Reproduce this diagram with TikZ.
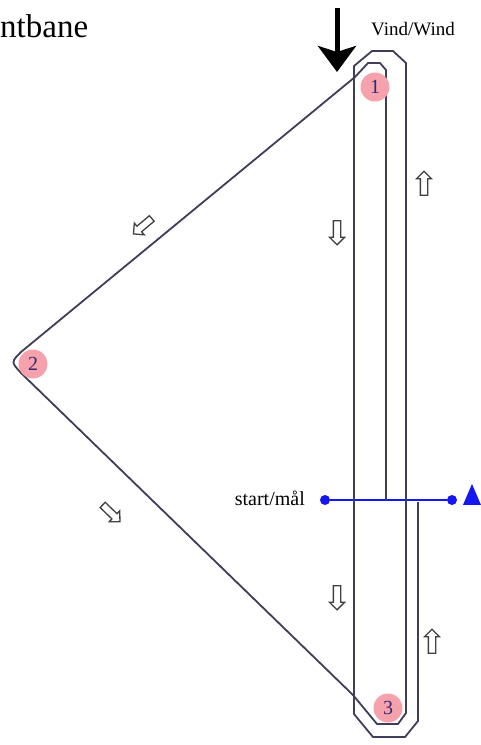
\documentclass[tikz,border=0pt]{standalone}
\usepackage{fontspec}
\setmainfont{Liberation Serif}
\usetikzlibrary{shapes.arrows,shapes.geometric,arrows.meta}
\definecolor{coursegray}{RGB}{62,62,88}
\definecolor{markpink}{RGB}{246,162,172}
\definecolor{marknum}{RGB}{52,40,112}
\definecolor{startblue}{RGB}{22,22,240}
\begin{document}
\begin{tikzpicture}[x=1pt, y=-1pt,
        course/.style={coursegray, line width=1.8pt, line join=round},
        buoymark/.style={circle, fill=markpink, minimum size=29pt, inner sep=0pt, text=marknum, font=\fontsize{20}{20}\selectfont},
        legarrow/.style={single arrow, draw=black!75, fill=white, line width=1.3pt, minimum height=24pt, minimum width=15pt, single arrow head extend=4pt, inner sep=3pt},
        startdot/.style={circle, fill=startblue, minimum size=10pt, inner sep=0pt}]
        \useasboundingbox (0,0) rectangle (481,745);
        % start/finish line
        \node[startdot] (startL) at (325,500) {};
        \node[startdot] (startR) at (452,500) {};
        \draw[startblue, line width=1.6pt] (startL) -- (startR);
        \node[isosceles triangle, shape border rotate=90, isosceles triangle stretches, fill=startblue, minimum height=21pt, minimum width=18pt, inner sep=0pt] (buoy) at (472,499) {};
        \node[anchor=base east, inner sep=0pt, font=\fontsize{20}{20}\selectfont] (startlbl) at (305,505) {start/mål};
        % the course
        \draw[course] (386,500) -- (386,70) -- (380,63) -- (368,63) -- (355,77) -- (21,352) .. controls (11,362) .. (21,373)
            -- (353,695) -- (377,724) -- (398,724) -- (406,713) -- (406,63) -- (393,51) -- (372,51) -- (354,66)
            -- (354,714) -- (373,737) -- (405,737) -- (418,721) -- (418,502);
        % marks
        \node[buoymark] (m1) at (375,87) {1};
        \node[buoymark] (m2) at (33,364) {2};
        \node[buoymark] (m3) at (388,708) {3};
        % leg arrows
        \node[legarrow, rotate=90] (up1) at (424,185) {};
        \node[legarrow, rotate=-90] (down1) at (337,231) {};
        \node[legarrow, rotate=220] (reach1) at (144,225) {};
        \node[legarrow, rotate=-44] (reach2) at (110,512) {};
        \node[legarrow, rotate=-90] (down2) at (337,596) {};
        \node[legarrow, rotate=90] (up2) at (432,643) {};
        % wind
        \coordinate (windtail) at (337,8);
        \coordinate (windtip) at (337,72);
        \draw[line width=5pt, -{Stealth[length=26pt, width=38pt, inset=6pt]}] (windtail) -- (windtip);
        \node[anchor=base, inner sep=0pt, font=\fontsize{19}{19}\selectfont] (windlbl) at (413,35) {Vind/Wind};
        \node[anchor=base west, inner sep=0pt, font=\fontsize{33}{33}\selectfont] (title) at (0,37) {ntbane};
    \end{tikzpicture}
\end{document}
